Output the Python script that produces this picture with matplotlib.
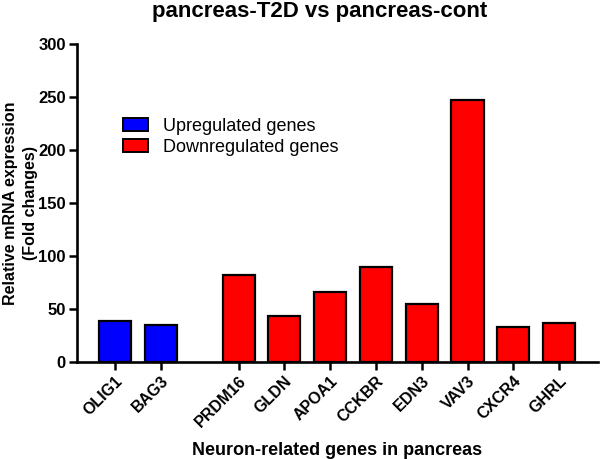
import matplotlib
matplotlib.use("Agg")
import matplotlib.pyplot as plt
import matplotlib.transforms as mtransforms
from matplotlib.patches import Patch

genes = ["OLIG1", "BAG3", "PRDM16", "GLDN", "APOA1", "CCKBR", "EDN3", "VAV3", "CXCR4", "GHRL"]
values = [38.4, 34.6, 82, 43.4, 66, 90, 55, 247, 33, 37.1]
groups = ["up", "up", "down", "down", "down", "down", "down", "down", "down", "down"]
positions = [0, 1, 2.7, 3.7, 4.7, 5.7, 6.7, 7.7, 8.7, 9.7]
colors = {"up": "#0000ff", "down": "#ff0000"}
yticks = [0, 50, 100, 150, 200, 250, 300]

plt.rcParams['font.family'] = ['Liberation Sans', 'DejaVu Sans']
fig = plt.figure(figsize=(6, 4.59), dpi=100)
W, H = 600, 459
ax = fig.add_axes([77/W, 1-362/H, 521/W, 318/H])

ax.bar(positions, values, width=0.7, color=[colors[g] for g in groups],
       edgecolor="black", linewidth=1.6, zorder=3)

ax.set_xlim(-0.83, 10.55)
ax.set_ylim(0, 300)
ax.set_yticks(yticks)
ax.set_xticks(positions)
ax.set_xticklabels(genes, rotation=45, ha="right", va="top", rotation_mode="anchor",
                   fontsize=11.5, fontweight="bold")
off = mtransforms.ScaledTranslation(-0.05, -0.06, fig.dpi_scale_trans)
for lbl in ax.get_xticklabels():
    lbl.set_transform(lbl.get_transform() + off)
for lbl in ax.get_yticklabels():
    lbl.set_fontweight("bold")
    lbl.set_fontsize(12)
ax.tick_params(axis="both", width=1.8, length=6, direction="out", pad=2)
for s in ["top", "right"]:
    ax.spines[s].set_visible(False)
for s in ["left", "bottom"]:
    ax.spines[s].set_linewidth(1.9)

ax.set_ylabel("Relative mRNA expression\n(Fold changes)", fontsize=11.5, fontweight="bold",
              linespacing=1.4)
ax.yaxis.set_label_coords(-0.075, 0.5)

fig.text(337/W, 1-455/H, "Neuron-related genes in pancreas", fontsize=13,
         fontweight="bold", ha="center", va="baseline")
fig.text(320/W, 1-1/H, "pancreas-T2D vs pancreas-cont", fontsize=16,
         fontweight="bold", ha="center", va="top")

handles = [Patch(facecolor=colors["up"], edgecolor="black", linewidth=1.4, label="Upregulated genes"),
           Patch(facecolor=colors["down"], edgecolor="black", linewidth=1.4, label="Downregulated genes")]
fig.legend(handles=handles, loc="upper left", bbox_to_anchor=(123/W, 1-118/H),
           bbox_transform=fig.transFigure, frameon=False, fontsize=13,
           handlelength=1.4, handleheight=0.72, handletextpad=0.8, labelspacing=0.2,
           borderpad=0, borderaxespad=0)

fig.savefig("out.png", dpi=100)
